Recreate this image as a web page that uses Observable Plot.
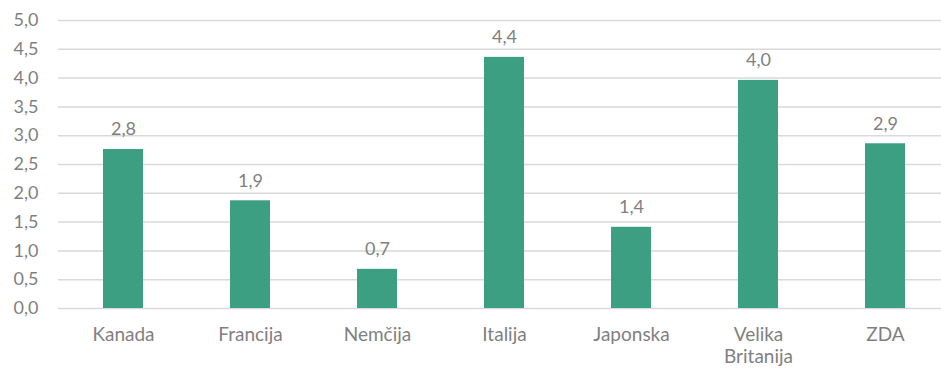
<!DOCTYPE html>
<html>
<head>
<meta charset="utf-8">
<script src="https://cdn.jsdelivr.net/npm/d3@7"></script>
<script src="https://cdn.jsdelivr.net/npm/@observablehq/plot@0.6"></script>
<style>
  html, body { margin: 0; padding: 0; background: #fff; overflow: hidden; }
  svg { display: block; }
</style>
</head>
<body>
<div id="chart"></div>
<script>
const categories = ["Kanada", "Francija", "Nemčija", "Italija", "Japonska", "Velika Britanija", "ZDA"];
const values = [2.76, 1.87, 0.68, 4.36, 1.41, 3.96, 2.86];
const yTicks = [0, 0.5, 1, 1.5, 2, 2.5, 3, 3.5, 4, 4.5, 5];

const data = categories.map((c, i) => ({category: c, value: values[i]}));
const fmt = v => v.toFixed(1).replace(".", ",");
const textColor = "#7f7f7f";

const chart = Plot.plot({
  width: 941,
  height: 370,
  marginLeft: 58,
  marginRight: 0,
  marginTop: 20,
  marginBottom: 62,
  style: {fontFamily: "Lato, sans-serif", fontSize: "18px", color: textColor, background: "#fff"},
  x: {domain: categories, range: [58, 950], paddingInner: 0.686, paddingOuter: 0.343, label: null},
  y: {domain: [0, 5], label: null},
  marks: [
    Plot.ruleY(yTicks, {stroke: "#d9d9d9", strokeWidth: 1.5}),
    Plot.axisY({ticks: yTicks, tickSize: 0, tickPadding: 20, tickFormat: fmt, fontSize: 18, fill: textColor, label: null}),
    Plot.axisX({tickSize: 0, tickPadding: 16, fontSize: 19, fill: textColor, lineHeight: 1.2,
      tickFormat: d => d.replace(" ", "\n"), label: null}),
    Plot.barY(data, {x: "category", y: "value", fill: "#3c9f81"}),
    Plot.text(data, {x: "category", y: "value", text: d => fmt(d.value), dy: -20, fontSize: 18, fill: textColor})
  ]
});
document.getElementById("chart").appendChild(chart);
</script>
</body>
</html>
